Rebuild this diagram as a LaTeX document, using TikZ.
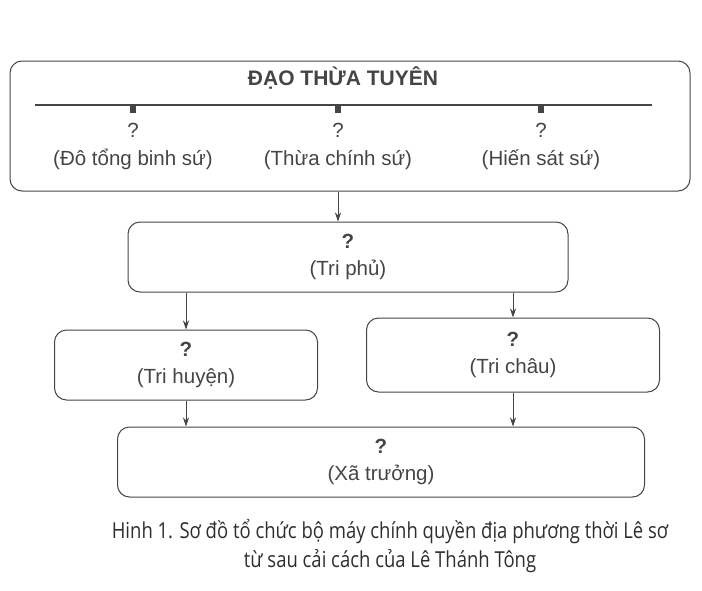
\documentclass[tikz,border=0pt]{standalone}
\usepackage{fontspec}
\setmainfont{Liberation Sans}
\newfontfamily\capfont[FakeStretch=0.84]{Open Sans}
\usetikzlibrary{arrows.meta}
\definecolor{ink}{HTML}{454545}
\definecolor{capink}{HTML}{2E2E2E}
\begin{document}
\begin{tikzpicture}[x=1pt,y=-1pt,
    box/.style={draw=ink,line width=1pt,rounded corners=12pt,align=center,
      text=ink,font=\fontsize{20.5}{27}\selectfont},
    office/.style={align=center,text=ink,font=\fontsize{20.5}{28}\selectfont},
    stub/.style={fill=ink,inner sep=0pt,minimum width=6pt,minimum height=8pt},
    link/.style={draw=ink,line width=0.9pt,-{Stealth[length=9pt,width=6pt]}}]

      \useasboundingbox (0,0) rectangle (702,590);

      \begin{scope}[every node/.style={box}]
        \node[minimum width=680pt,minimum height=130pt] (dao)      at (350,126) {};
        \node[minimum width=440pt,minimum height=70pt]  (triphu)   at (348,257) {\textbf{?}\\(Tri phủ)};
        \node[minimum width=263pt,minimum height=70pt]  (trihuyen) at (186,365) {\textbf{?}\\(Tri huyện)};
        \node[minimum width=293pt,minimum height=74pt]  (trichau)  at (513,355) {\textbf{?}\\(Tri châu)};
        \node[minimum width=527pt,minimum height=70pt]  (xatruong) at (381,462) {\textbf{?}\\(Xã trưởng)};
      \end{scope}

      % inside the top box
      \node[text=ink,font=\fontsize{21}{24}\selectfont\bfseries] (head) at (343,78) {ĐẠO THỪA TUYÊN};
      \coordinate (barL) at (35,105);
      \coordinate (barR) at (652,105);
      \draw[draw=ink,line width=1.4pt] (barL) -- (barR);

      \begin{scope}[every node/.style={stub,anchor=north}]
        \node (s1) at (133,105) {};
        \node (s2) at (338,105) {};
        \node (s3) at (541,105) {};
      \end{scope}

      \begin{scope}[every node/.style={office,anchor=north,yshift=-6pt}]
        \node (o1) at (s1.south) {?\\(Đô tổng binh sứ)};
        \node (o2) at (s2.south) {?\\(Thừa chính sứ)};
        \node (o3) at (s3.south) {?\\(Hiến sát sứ)};
      \end{scope}

      \begin{scope}[every edge/.style={link}]
        \path (dao.south -| s2) edge (triphu.north -| s2);
        \path (triphu.south -| trihuyen) edge (trihuyen.north);
        \path (triphu.south -| trichau) edge (trichau.north);
        \path (trihuyen.south) edge (xatruong.north -| trihuyen);
        \path (trichau.south) edge (xatruong.north -| trichau);
      \end{scope}

      \node[align=center,text=capink,font=\capfont\fontsize{22}{29}\selectfont] (cap) at (390,546)
        {Hinh 1. Sơ đồ tổ chức bộ máy chính quyền địa phương thời Lê sơ\\
         từ sau cải cách của Lê Thánh Tông};

    \end{tikzpicture}
\end{document}
